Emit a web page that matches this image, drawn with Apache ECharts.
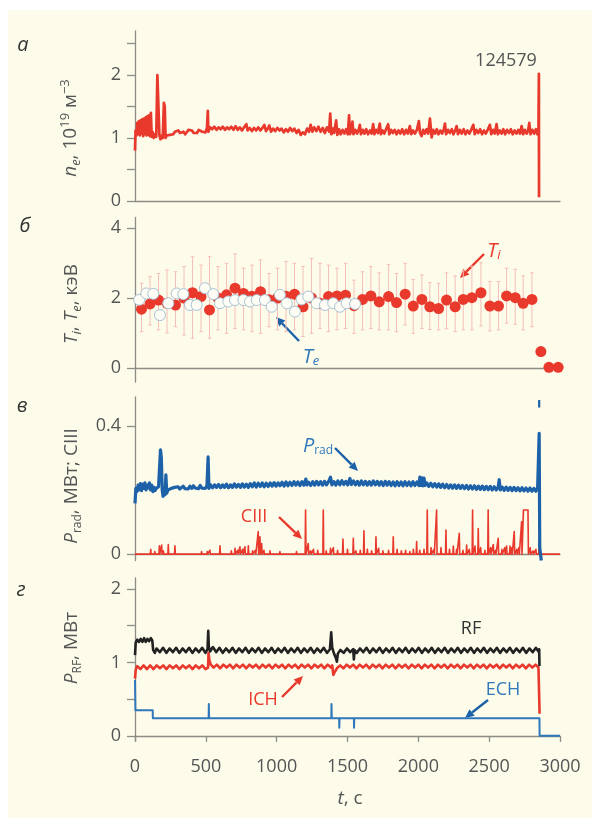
<!DOCTYPE html>
<html>
<head>
<meta charset="UTF-8">
<title>124579</title>
<script src="https://cdn.jsdelivr.net/npm/echarts@6/dist/echarts.min.js"></script>
<style>
  body { margin: 0; background: #fff; }
  #chartArea { width: 600px; height: 827px; }
</style>
</head>
<body>
<div id="chartArea"></div>
<script>
// ---- data (t in s) ----
var xTicks = [0, 500, 1000, 1500, 2000, 2500, 3000];

// panel a: n_e, 10^19 m^-3
var neData = [[0,0.80],[4,1.12],[10,1.04],[16,1.24],[22,1.06],[28,1.27],[34,1.04],[40,1.28],[46,1.07],[52,1.30],[58,1.03],[64,1.31],[70,1.06],[76,1.33],[82,1.04],[88,1.35],[94,1.05],[100,1.36],[106,1.03],[112,1.40],[118,1.02],[124,1.10],[132,1.00],[142,1.06],[150,1.02],[158,2.00],[166,2.03],[172,1.05],[180,0.98],[188,1.04],[196,1.00],[204,1.56],[210,1.50],[216,1.00],[224,1.04],[232,1.07],[246,1.05],[258,1.08],[270,1.06],[282,1.10],[294,1.13],[306,1.12],[318,1.08],[330,1.07],[342,1.10],[354,1.06],[366,1.08],[378,1.13],[390,1.15],[402,1.12],[414,1.08],[426,1.06],[438,1.08],[450,1.13],[462,1.15],[474,1.10],[486,1.11],[498,1.09],[508,1.16],[514,1.43],[518,1.10],[530,1.17],[545,1.14],[560,1.18],[575,1.13],[590,1.17],[605,1.14],[620,1.18],[635,1.13],[650,1.17],[665,1.14],[680,1.18],[695,1.13],[710,1.19],[725,1.13],[740,1.17],[755,1.12],[770,1.17],[786,1.22],[795,1.12],[810,1.16],[825,1.11],[840,1.16],[855,1.12],[870,1.17],[885,1.12],[900,1.16],[913,1.21],[925,1.11],[940,1.16],[948,1.20],[960,1.10],[975,1.15],[990,1.11],[1005,1.16],[1020,1.12],[1035,1.15],[1050,1.09],[1065,1.14],[1080,1.10],[1095,1.16],[1110,1.11],[1125,1.15],[1140,1.08],[1155,1.13],[1170,1.05],[1185,1.09],[1200,1.06],[1215,1.15],[1228,1.10],[1240,1.21],[1252,1.10],[1265,1.17],[1280,1.11],[1295,1.18],[1310,1.10],[1325,1.16],[1340,1.08],[1355,1.17],[1370,1.10],[1378,1.39],[1386,1.06],[1398,1.15],[1405,1.08],[1420,1.28],[1428,1.05],[1440,1.14],[1452,1.06],[1465,1.13],[1478,1.07],[1490,1.14],[1502,1.06],[1511,1.36],[1518,1.06],[1528,1.13],[1535,1.26],[1542,1.06],[1555,1.13],[1568,1.07],[1580,1.14],[1587,1.21],[1595,1.06],[1608,1.13],[1620,1.07],[1632,1.14],[1645,1.06],[1658,1.12],[1670,1.07],[1681,1.22],[1690,1.06],[1702,1.13],[1715,1.08],[1728,1.23],[1736,1.06],[1748,1.12],[1760,1.07],[1772,1.14],[1787,1.22],[1795,1.06],[1808,1.13],[1820,1.08],[1833,1.13],[1846,1.06],[1860,1.12],[1873,1.07],[1886,1.14],[1900,1.06],[1913,1.13],[1926,1.07],[1940,1.19],[1950,1.06],[1963,1.12],[1976,1.07],[1990,1.13],[2004,1.27],[2012,1.08],[2023,1.03],[2034,1.13],[2046,1.07],[2058,1.14],[2070,1.07],[2082,1.31],[2094,1.01],[2105,1.13],[2118,1.07],[2130,1.14],[2142,1.06],[2155,1.12],[2168,1.07],[2180,1.14],[2188,1.23],[2196,1.06],[2210,1.13],[2223,1.08],[2236,1.14],[2248,1.06],[2260,1.12],[2270,1.19],[2280,1.06],[2293,1.13],[2306,1.07],[2320,1.14],[2333,1.06],[2346,1.12],[2360,1.07],[2373,1.13],[2388,1.21],[2398,1.06],[2410,1.13],[2423,1.08],[2436,1.14],[2450,1.06],[2463,1.12],[2476,1.07],[2490,1.13],[2505,1.21],[2515,1.06],[2528,1.13],[2540,1.07],[2552,1.22],[2562,1.06],[2575,1.12],[2588,1.07],[2600,1.14],[2613,1.06],[2626,1.13],[2640,1.08],[2653,1.14],[2666,1.06],[2680,1.12],[2693,1.07],[2706,1.13],[2718,1.07],[2729,1.19],[2740,1.06],[2752,1.13],[2765,1.07],[2775,1.12],[2783,1.24],[2792,1.06],[2805,1.13],[2818,1.07],[2830,1.14],[2840,1.06],[2848,1.12],[2851,2.02],[2852,0.06]];

// panel б: T_i (with error bars) and T_e, keV
var tiT  = [46,106,166,226,286,346,406,466,526,586,646,706,766,826,886,946,1006,1066,1126,1186,1246,1306,1366,1426,1486,1546,1606,1665,1724,1790,1846,1907,1964,2025,2081,2143,2199,2260,2317,2378,2442,2505,2566,2623,2684,2740,2802,2865,2922,2987];
var tiV  = [1.68,1.83,1.94,1.85,1.80,2.00,2.15,2.04,1.66,2.00,2.09,2.28,2.13,2.05,2.18,1.95,2.00,2.05,2.11,1.75,2.00,1.85,2.04,2.06,2.08,1.78,1.96,2.06,1.89,2.04,1.87,2.11,1.77,1.96,1.75,1.70,1.94,1.75,1.96,2.01,2.15,1.77,1.77,2.06,2.01,1.85,1.96,0.47,0.02,0.02];
var tiHi = [2.42,2.61,2.70,2.80,2.75,2.90,3.18,2.94,3.18,2.90,2.99,3.26,2.85,2.94,3.09,2.70,2.85,3.04,2.99,2.90,3.13,2.99,2.94,2.85,2.99,2.51,2.75,2.90,2.72,2.96,2.70,2.99,2.53,2.66,2.44,2.42,2.72,2.63,2.78,2.91,3.01,2.47,2.47,2.85,2.82,2.63,2.72,null,null,null];
var tiLo = [1.04,1.23,1.09,1.00,1.18,0.94,0.85,1.04,0.85,1.09,0.99,1.13,1.09,1.04,0.99,1.18,1.09,1.04,1.09,0.90,0.99,1.13,1.04,1.09,1.13,0.99,1.09,1.13,1.09,1.09,1.04,1.23,0.99,1.13,1.10,1.09,1.12,1.04,1.09,1.09,1.20,1.06,1.09,1.28,1.25,1.09,1.18,null,null,null];
var teData = [[30,1.95],[80,2.13],[129,2.12],[176,1.51],[235,1.85],[294,2.13],[341,2.11],[388,1.80],[435,1.80],[494,2.28],[553,2.11],[600,1.85],[659,1.90],[706,1.94],[765,1.94],[812,1.90],[859,1.94],[917,1.94],[965,1.75],[1023,2.09],[1071,1.85],[1129,1.61],[1176,1.96],[1223,2.04],[1282,1.85],[1341,1.80],[1399,1.85],[1447,1.75],[1494,1.85],[1553,1.83]];

// panel в: P_rad, MW and CIII
var pradData = [[0,0.158],[6,0.205],[14,0.195],[22,0.215],[30,0.200],[38,0.220],[46,0.198],[54,0.218],[62,0.205],[70,0.222],[78,0.200],[86,0.215],[94,0.207],[102,0.222],[110,0.200],[118,0.215],[126,0.195],[134,0.208],[142,0.198],[150,0.205],[158,0.200],[166,0.210],[174,0.205],[180,0.325],[186,0.300],[192,0.200],[198,0.180],[206,0.195],[212,0.185],[218,0.247],[224,0.190],[232,0.200],[244,0.195],[256,0.205],[268,0.200],[280,0.208],[292,0.202],[304,0.210],[316,0.203],[328,0.207],[340,0.212],[352,0.204],[364,0.210],[376,0.203],[388,0.212],[400,0.205],[412,0.213],[424,0.206],[436,0.212],[448,0.204],[460,0.214],[472,0.206],[484,0.212],[496,0.205],[508,0.213],[516,0.303],[522,0.205],[534,0.216],[548,0.207],[562,0.216],[576,0.208],[590,0.217],[604,0.207],[618,0.216],[632,0.208],[646,0.218],[660,0.207],[674,0.216],[688,0.208],[702,0.219],[716,0.209],[730,0.217],[744,0.208],[758,0.219],[772,0.209],[786,0.218],[800,0.208],[814,0.220],[828,0.210],[842,0.222],[856,0.209],[870,0.221],[884,0.211],[898,0.222],[912,0.210],[926,0.221],[940,0.211],[954,0.222],[968,0.212],[982,0.223],[996,0.212],[1010,0.222],[1024,0.213],[1038,0.224],[1052,0.212],[1066,0.225],[1080,0.213],[1094,0.224],[1108,0.214],[1122,0.226],[1136,0.215],[1150,0.225],[1164,0.214],[1178,0.226],[1192,0.215],[1206,0.234],[1214,0.216],[1226,0.224],[1240,0.214],[1254,0.226],[1268,0.215],[1282,0.227],[1296,0.216],[1310,0.226],[1324,0.215],[1338,0.227],[1352,0.216],[1366,0.226],[1380,0.240],[1390,0.216],[1404,0.226],[1418,0.215],[1432,0.228],[1446,0.216],[1460,0.229],[1474,0.217],[1488,0.227],[1502,0.216],[1517,0.236],[1528,0.217],[1542,0.228],[1556,0.216],[1570,0.227],[1584,0.215],[1598,0.228],[1612,0.216],[1626,0.227],[1640,0.215],[1654,0.226],[1668,0.215],[1682,0.228],[1696,0.216],[1710,0.227],[1724,0.215],[1738,0.226],[1752,0.214],[1766,0.227],[1780,0.215],[1794,0.226],[1808,0.214],[1822,0.225],[1836,0.213],[1850,0.226],[1864,0.214],[1878,0.225],[1892,0.213],[1906,0.226],[1920,0.214],[1934,0.225],[1948,0.213],[1962,0.226],[1976,0.214],[1990,0.225],[2004,0.214],[2011,0.240],[2018,0.214],[2025,0.238],[2032,0.213],[2040,0.237],[2048,0.214],[2060,0.222],[2074,0.211],[2088,0.221],[2102,0.210],[2116,0.220],[2130,0.209],[2144,0.219],[2158,0.208],[2172,0.218],[2186,0.207],[2200,0.217],[2214,0.206],[2228,0.216],[2242,0.206],[2256,0.216],[2270,0.205],[2284,0.215],[2298,0.205],[2312,0.214],[2326,0.204],[2340,0.214],[2354,0.203],[2368,0.213],[2382,0.203],[2396,0.213],[2410,0.202],[2424,0.212],[2438,0.202],[2452,0.212],[2466,0.201],[2480,0.211],[2494,0.201],[2508,0.211],[2522,0.200],[2536,0.210],[2550,0.200],[2564,0.210],[2571,0.232],[2578,0.200],[2592,0.209],[2606,0.199],[2620,0.209],[2634,0.199],[2648,0.208],[2662,0.198],[2676,0.208],[2690,0.198],[2704,0.207],[2718,0.197],[2732,0.207],[2746,0.197],[2760,0.206],[2774,0.196],[2788,0.206],[2802,0.196],[2816,0.205],[2830,0.196],[2842,0.206],[2850,0.200],[2853,0.377],[2857,0.02],[2868,-0.02]];
var pradCut = [[2853,0.457],[2853,0.481]];
var ciiiT = [60,111,140,172,188,200,235,260,282,330,400,470,510,529,545,600,640,680,706,725,741,760,776,800,830,850,870,882,894,910,953,980,1023,1060,1100,1140,1170,1204,1223,1240,1260,1290,1329,1350,1380,1400,1430,1468,1500,1541,1560,1590,1616,1640,1670,1701,1720,1750,1790,1823,1850,1880,1910,1940,1965,1988,2010,2040,2063,2090,2110,2129,2160,2195,2220,2247,2270,2289,2315,2341,2360,2383,2400,2423,2440,2470,2493,2510,2529,2545,2564,2590,2610,2623,2647,2660,2677,2695,2710,2729,2742,2750,2758,2766,2774,2790,2810,2830,2853];
var ciiiV = [0.006,0.015,0.008,0.026,0.028,0.010,0.030,0.006,0.026,0.005,0.006,0.008,0.008,0.0125,0.005,0.026,0.006,0.010,0.018,0.012,0.023,0.015,0.023,0.026,0.010,0.012,0.070,0.054,0.033,0.012,0.010,0.006,0.008,0.005,0.006,0.008,0.005,0.1375,0.033,0.010,0.015,0.012,0.1375,0.010,0.018,0.020,0.012,0.047,0.015,0.049,0.010,0.012,0.073,0.015,0.010,0.054,0.018,0.010,0.012,0.054,0.015,0.010,0.012,0.008,0.015,0.039,0.012,0.015,0.1375,0.020,0.015,0.1375,0.020,0.075,0.015,0.025,0.015,0.065,0.012,0.028,0.015,0.1375,0.025,0.080,0.020,0.012,0.1375,0.020,0.030,0.012,0.049,0.015,0.020,0.025,0.025,0.020,0.070,0.015,0.020,0.101,0.1375,0.1375,0.1375,0.1375,0.1375,0.020,0.010,0.015,0.039];

// panel г: P_RF, MW
var rfData = [[0,1.10],[5,1.27],[16,1.31],[28,1.28],[40,1.32],[52,1.28],[64,1.33],[76,1.28],[88,1.32],[100,1.29],[112,1.33],[122,1.30],[128,1.17],[140,1.13],[152,1.19],[175,1.14],[198,1.20],[221,1.13],[244,1.19],[267,1.14],[290,1.20],[313,1.13],[336,1.19],[359,1.14],[382,1.20],[405,1.13],[428,1.19],[451,1.14],[474,1.20],[497,1.13],[512,1.18],[517,1.43],[521,1.22],[530,1.15],[550,1.21],[573,1.14],[596,1.20],[619,1.13],[642,1.19],[665,1.14],[688,1.20],[711,1.13],[734,1.19],[757,1.14],[780,1.20],[803,1.13],[826,1.19],[849,1.14],[872,1.20],[895,1.13],[918,1.19],[941,1.14],[964,1.20],[987,1.13],[1010,1.19],[1033,1.14],[1056,1.20],[1079,1.13],[1102,1.19],[1125,1.14],[1148,1.20],[1171,1.13],[1194,1.19],[1217,1.14],[1240,1.20],[1263,1.13],[1286,1.19],[1309,1.14],[1332,1.20],[1355,1.13],[1376,1.18],[1385,1.41],[1392,1.20],[1405,1.12],[1418,1.06],[1425,1.01],[1432,1.12],[1450,1.17],[1473,1.13],[1496,1.19],[1519,1.14],[1540,1.18],[1545,1.04],[1550,1.17],[1565,1.13],[1588,1.19],[1611,1.14],[1634,1.20],[1657,1.13],[1680,1.19],[1703,1.14],[1726,1.20],[1749,1.13],[1772,1.19],[1795,1.14],[1818,1.20],[1841,1.13],[1864,1.19],[1887,1.14],[1910,1.20],[1933,1.13],[1956,1.19],[1979,1.14],[2002,1.20],[2025,1.13],[2048,1.19],[2071,1.14],[2094,1.20],[2117,1.13],[2140,1.19],[2163,1.14],[2186,1.20],[2209,1.13],[2232,1.19],[2255,1.14],[2278,1.20],[2301,1.13],[2324,1.19],[2347,1.14],[2370,1.20],[2393,1.13],[2416,1.19],[2439,1.14],[2462,1.20],[2485,1.13],[2508,1.19],[2531,1.14],[2554,1.20],[2577,1.13],[2600,1.19],[2623,1.14],[2646,1.20],[2669,1.13],[2692,1.19],[2715,1.14],[2738,1.20],[2761,1.13],[2784,1.19],[2807,1.14],[2830,1.20],[2848,1.15],[2853,1.18],[2855,0.95]];
var ichData = [[0,0.78],[5,0.90],[16,0.95],[38,0.91],[61,0.96],[84,0.91],[107,0.96],[130,0.91],[153,0.96],[176,0.92],[199,0.96],[222,0.91],[245,0.96],[268,0.92],[291,0.96],[314,0.91],[337,0.96],[360,0.92],[383,0.96],[406,0.91],[429,0.96],[452,0.92],[475,0.96],[498,0.91],[516,0.93],[519,1.13],[526,1.02],[535,0.97],[555,0.93],[578,0.97],[601,0.92],[624,0.97],[647,0.93],[670,0.97],[693,0.92],[716,0.97],[739,0.93],[762,0.97],[785,0.92],[808,0.97],[831,0.93],[854,0.97],[877,0.92],[900,0.97],[923,0.93],[946,0.97],[969,0.92],[992,0.97],[1015,0.93],[1038,0.97],[1061,0.92],[1084,0.97],[1107,0.93],[1130,0.97],[1153,0.92],[1176,0.97],[1199,0.93],[1222,0.97],[1245,0.92],[1268,0.97],[1291,0.93],[1314,0.97],[1337,0.92],[1360,0.97],[1383,0.93],[1392,0.96],[1400,0.83],[1410,0.87],[1425,0.92],[1448,0.96],[1471,0.92],[1494,0.97],[1517,0.93],[1540,0.97],[1563,0.92],[1586,0.97],[1609,0.93],[1632,0.97],[1655,0.92],[1678,0.97],[1701,0.93],[1724,0.97],[1747,0.92],[1770,0.97],[1793,0.93],[1816,0.97],[1839,0.92],[1862,0.97],[1885,0.93],[1908,0.97],[1931,0.92],[1954,0.97],[1977,0.93],[2000,0.97],[2023,0.92],[2046,0.97],[2069,0.93],[2092,0.97],[2115,0.92],[2138,0.97],[2161,0.93],[2184,0.97],[2207,0.92],[2230,0.97],[2253,0.93],[2276,0.97],[2299,0.92],[2322,0.97],[2345,0.93],[2368,0.97],[2391,0.92],[2414,0.97],[2437,0.93],[2460,0.97],[2483,0.92],[2506,0.97],[2529,0.93],[2552,0.97],[2575,0.92],[2598,0.97],[2621,0.93],[2644,0.97],[2667,0.92],[2690,0.97],[2713,0.93],[2736,0.97],[2759,0.92],[2782,0.97],[2805,0.93],[2828,0.97],[2848,0.93],[2854,0.95],[2856,0.30]];
var echData = [[0,0.76],[3,0.35],[125,0.35],[126,0.24],[520,0.24],[521,0.435],[523,0.24],[1386,0.24],[1387,0.435],[1389,0.24],[1441,0.24],[1442,0.11],[1444,0.24],[1545,0.24],[1546,0.11],[1548,0.24],[2855,0.24],[2856,0],[3000,0]];

// ---- colours ----
var RED = '#e8392c', BLUE = '#1d62a8', BLUE2 = '#2f78bb', INK = '#555', AX = '#8d8d85';
var FONT = 'Open Sans';

// CIII: spikes on a zero baseline
var ciiiData = [[0, 0]];
for (var i = 0; i < ciiiT.length; i++) {
  var prev = i > 0 ? ciiiT[i - 1] : -99;
  if (ciiiT[i] - prev > 8) ciiiData.push([ciiiT[i] - 3, 0]);
  ciiiData.push([ciiiT[i], ciiiV[i]]);
  var next = i < ciiiT.length - 1 ? ciiiT[i + 1] : 99999;
  if (next - ciiiT[i] > 8) ciiiData.push([ciiiT[i] + 3, 0]);
}
ciiiData.push([3000, 0]);

var tiData = [], tiErr = [];
for (var k = 0; k < tiT.length; k++) {
  tiData.push([tiT[k], tiV[k]]);
  if (tiLo[k] != null) tiErr.push([tiT[k], tiLo[k], tiHi[k]]);
}

var myChart = echarts.init(document.getElementById('chartArea'));

var grids = [
  { left: 135, width: 425, top: 31, height: 170 },
  { left: 135, width: 425, top: 217.5, height: 164.5 },
  { left: 135, width: 425, top: 397, height: 163.5 },
  { left: 135, width: 425, top: 578, height: 163 }
];

function xAx(i) {
  return {
    type: 'value', gridIndex: i, min: xTicks[0], max: xTicks[xTicks.length - 1], interval: 500,
    axisLine: { show: true, lineStyle: { color: AX, width: 1.3 } },
    axisTick: { show: i === 3, length: 6, lineStyle: { color: AX, width: 1.3 } },
    axisLabel: { show: i === 3, color: INK, fontSize: 18, fontFamily: FONT, margin: 17,
                 formatter: function (v) { return String(v); } },
    splitLine: { show: false }
  };
}
function yAx(i, min, max, ticks, labels) {
  return {
    type: 'value', gridIndex: i, min: min, max: max,
    axisLine: { show: true, lineStyle: { color: AX, width: 1.3 } },
    axisTick: { show: true, length: 8, customValues: ticks, lineStyle: { color: AX, width: 1.3 } },
    axisLabel: { customValues: labels, color: INK, fontSize: 18, fontFamily: FONT, margin: 14 },
    splitLine: { show: false }
  };
}

function lineS(xi, data, color, w, z) {
  return {
    type: 'line', xAxisIndex: xi, yAxisIndex: xi, data: data,
    showSymbol: false, animation: false, z: z || 2,
    lineStyle: { color: color, width: w, join: 'round' }
  };
}

function arrow(x1, y1, x2, y2, color) {
  var a = Math.atan2(y2 - y1, x2 - x1), L = 9, W = 4.2;
  var bx = x2 - L * Math.cos(a), by = y2 - L * Math.sin(a);
  var px = -Math.sin(a) * W, py = Math.cos(a) * W;
  return [
    { type: 'line', shape: { x1: x1, y1: y1, x2: bx, y2: by }, style: { stroke: color, lineWidth: 2.4 } },
    { type: 'polygon', shape: { points: [[x2, y2], [bx + px, by + py], [bx - px, by - py]] }, style: { fill: color } }
  ];
}

function label(x, y, text, rich, color, rot) {
  return {
    type: 'text', x: x, y: y, rotation: rot || 0, z: 20,
    style: { text: text, rich: rich, fill: color, align: 'center', verticalAlign: 'middle',
             fontFamily: FONT, fontSize: 17 }
  };
}

var yRich = {
  t: { fontSize: 19, fontFamily: FONT, fill: INK, lineHeight: 24, verticalAlign: 'middle' },
  i: { fontSize: 19, fontFamily: FONT, fontStyle: 'italic', fill: INK, lineHeight: 24, verticalAlign: 'middle' },
  sb: { fontSize: 12, fontFamily: FONT, fill: INK, lineHeight: 24, verticalAlign: 'bottom', padding: [11, 0, 0, 0] },
  sbi: { fontSize: 13, fontFamily: FONT, fontStyle: 'italic', fill: INK, lineHeight: 24, verticalAlign: 'bottom', padding: [11, 0, 0, 0] },
  sp: { fontSize: 13, fontFamily: FONT, fill: INK, lineHeight: 24, verticalAlign: 'top' }
};
function annRich(color) {
  return {
    t: { fontSize: 18, fontFamily: FONT, fill: color, lineHeight: 22 },
    i: { fontSize: 20, fontFamily: FONT, fontStyle: 'italic', fill: color, lineHeight: 22 },
    sb: { fontSize: 12, fontFamily: FONT, fill: color, lineHeight: 22, verticalAlign: 'bottom', padding: [12, 0, 0, 0] },
    sbi: { fontSize: 13, fontFamily: FONT, fontStyle: 'italic', fill: color, lineHeight: 22, verticalAlign: 'bottom', padding: [12, 0, 0, 0] }
  };
}
var letterRich = { i: { fontSize: 20, fontFamily: FONT, fontStyle: 'italic', fill: '#333' } };

var graphics = [
  { type: 'rect', shape: { x: 8, y: 10, width: 584, height: 808 }, style: { fill: '#fdfbea' }, z: -10, silent: true },
  // panel letters
  label(23, 45, '{i|а}', letterRich, '#333'),
  label(25, 226, '{i|б}', letterRich, '#333'),
  label(22, 406, '{i|в}', letterRich, '#333'),
  label(21, 590, '{i|г}', letterRich, '#333'),
  // axis names
  label(71, 128, '{i|n}{sbi|e}{t|, 10}{sp|19}{t| м}{sp|−3}', yRich, INK, Math.PI / 2),
  label(72, 304, '{i|T}{sbi|i}{t|, }{i|T}{sbi|e}{t|, кэВ}', yRich, INK, Math.PI / 2),
  label(72, 486, '{i|P}{sb|rad}{t|, МВт; CIII}', yRich, INK, Math.PI / 2),
  label(72, 648, '{i|P}{sb|RF}{t|, МВт}', yRich, INK, Math.PI / 2),
  label(350, 799, '{i|t}{t|, с}', yRich, INK),
  // annotations
  label(506, 61, '{t|124579}', annRich('#555'), '#555'),
  label(494, 251, '{i|T}{sbi|i}', annRich(RED), RED),
  label(311, 357, '{i|T}{sbi|e}', annRich(BLUE2), BLUE2),
  label(318, 446, '{i|P}{sb|rad}', annRich(BLUE2), BLUE2),
  label(254, 517, '{t|CIII}', annRich(RED), RED),
  label(471, 629, '{t|RF}', annRich('#333'), '#333'),
  label(263, 700, '{t|ICH}', annRich(RED), RED),
  label(503, 690, '{t|ECH}', annRich(BLUE2), BLUE2)
]
  .concat(arrow(484, 254, 460, 278, RED))
  .concat(arrow(299, 341, 276, 317, BLUE))
  .concat(arrow(335, 448, 358, 471, BLUE))
  .concat(arrow(279, 517, 302, 539, RED))
  .concat(arrow(282, 697, 303, 676, RED))
  .concat(arrow(488, 700, 465, 718, BLUE));

var option = {
  backgroundColor: '#ffffff',
  animation: false,
  grid: grids,
  xAxis: [xAx(0), xAx(1), xAx(2), xAx(3)],
  yAxis: [
    yAx(0, 0, 2.7, [0, 0.5, 1, 1.5, 2, 2.5], [0, 1, 2]),
    yAx(1, -0.4, 4.3, [0, 2, 4], [0, 2, 4]),
    yAx(2, -0.02, 0.49, [0, 0.4], [0, 0.4]),
    yAx(3, -0.07, 2.15, [0, 0.5, 1, 1.5, 2], [0, 1, 2])
  ],
  graphic: graphics,
  series: [
    lineS(0, neData, RED, 2.7),
    {
      type: 'custom', xAxisIndex: 1, yAxisIndex: 1, data: tiErr, z: 1,
      renderItem: function (params, api) {
        var lo = api.coord([api.value(0), api.value(1)]);
        var hi = api.coord([api.value(0), api.value(2)]);
        var st = { stroke: '#f5bfb8', lineWidth: 1 };
        return { type: 'group', children: [
          { type: 'line', shape: { x1: lo[0], y1: lo[1], x2: hi[0], y2: hi[1] }, style: st },
          { type: 'line', shape: { x1: lo[0] - 1.8, y1: lo[1], x2: lo[0] + 1.8, y2: lo[1] }, style: st },
          { type: 'line', shape: { x1: hi[0] - 1.8, y1: hi[1], x2: hi[0] + 1.8, y2: hi[1] }, style: st }
        ] };
      }
    },
    {
      type: 'scatter', xAxisIndex: 1, yAxisIndex: 1, data: tiData, z: 3,
      symbol: 'circle', symbolSize: 11, itemStyle: { color: RED, opacity: 1 }
    },
    {
      type: 'scatter', xAxisIndex: 1, yAxisIndex: 1, data: teData, z: 4,
      symbol: 'circle', symbolSize: 11,
      itemStyle: { color: '#fdfdf6', borderColor: '#a9c3d3', borderWidth: 1, opacity: 1 }
    },
    lineS(2, ciiiData, RED, 1.6, 2),
    lineS(2, pradData, BLUE, 3.2, 3),
    lineS(2, pradCut, BLUE, 2.2, 3),
    lineS(3, ichData, RED, 2.6, 2),
    lineS(3, rfData, '#222', 2.6, 3),
    lineS(3, echData, BLUE2, 2, 4)
  ]
};
myChart.setOption(option);
</script>
</body>
</html>
